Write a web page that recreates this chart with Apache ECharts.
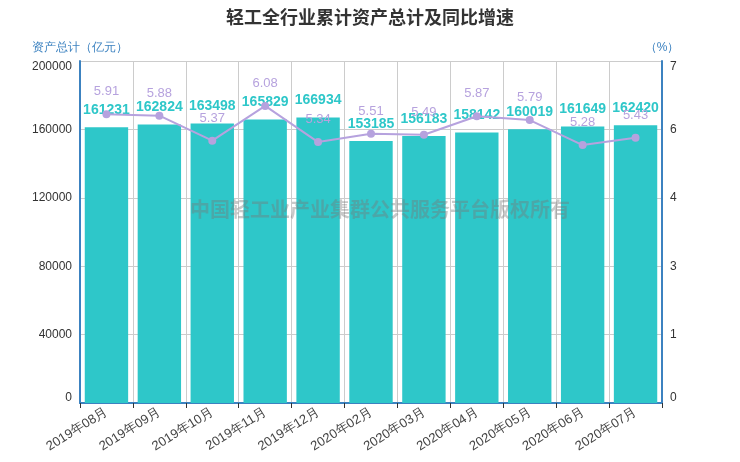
<!DOCTYPE html>
<html><head><meta charset="utf-8">
<script src="https://cdn.jsdelivr.net/npm/echarts@6/dist/echarts.min.js"></script>
<style>html,body{margin:0;padding:0;background:#fff}#c{width:740px;height:462px}</style>
</head><body><div id="c"></div>
<script>
var categories = ['2019年08月','2019年09月','2019年10月','2019年11月','2019年12月','2020年02月','2020年03月','2020年04月','2020年05月','2020年06月','2020年07月'];
var assets = [161231,162824,163498,165829,166934,153185,156183,158142,160019,161649,162420];
var growth = [5.91,5.88,5.37,6.08,5.34,5.51,5.49,5.87,5.79,5.28,5.43];
var leftTicks = [0,200000,40000];
var rightTicks = [0,7,1.4];

var chart = echarts.init(document.getElementById('c'));
var axisBlue = '#3c82c0';
function edgeFmt(min,max,fn){
  return function(v){
    var s = fn(v);
    if (Math.abs(v-max)<1e-9) return '{t|'+s+'}';
    if (Math.abs(v-min)<1e-9) return '{b|'+s+'}';
    return s;
  };
}
var richEdge = {t:{padding:[11,0,0,0],color:'#333',fontSize:12},b:{padding:[0,0,11,0],color:'#333',fontSize:12}};
chart.setOption({
  animation:false,
  title:{text:'轻工全行业累计资产总计及同比增速',left:'center',top:3,textStyle:{fontSize:18,fontWeight:'bold',color:'#333',fontFamily:'Noto Sans CJK SC'}},
  grid:{left:80,right:78,top:61,bottom:59},
  graphic:[{type:'text',left:190,top:199,z:100,style:{text:'中国轻工业产业集群公共服务平台版权所有',fontSize:20,fontWeight:'bold',fontFamily:'Noto Sans CJK SC',fill:'rgba(120,120,120,0.4)'}}],
  xAxis:{type:'category',data:categories,
    axisLine:{lineStyle:{color:axisBlue,width:2}},
    axisTick:{show:true,lineStyle:{color:'#333'}},
    axisLabel:{rotate:32,color:'#444',fontSize:13,interval:0,margin:8},
    splitLine:{show:true,lineStyle:{color:'#ccc'}}},
  yAxis:[{type:'value',min:leftTicks[0],max:leftTicks[1],interval:leftTicks[2],
      name:'资产总计（亿元）',nameGap:7,nameTextStyle:{color:'#3c82c0',fontSize:12},
      axisLine:{show:true,lineStyle:{color:axisBlue,width:2}},axisTick:{show:false},
      axisLabel:{color:'#333',fontSize:12,rich:richEdge,formatter:edgeFmt(leftTicks[0],leftTicks[1],function(v){return String(v);})},
      splitLine:{lineStyle:{color:'#ccc'}}},
    {type:'value',min:rightTicks[0],max:rightTicks[1],interval:rightTicks[2],
      name:'（%）',nameGap:7,nameTextStyle:{color:'#3c82c0',fontSize:12},
      axisLine:{show:true,lineStyle:{color:axisBlue,width:2}},axisTick:{show:false},
      axisLabel:{color:'#333',fontSize:12,rich:richEdge,formatter:edgeFmt(rightTicks[0],rightTicks[1],function(v){return String(Math.round(v));})},
      splitLine:{show:false}}],
  series:[{type:'bar',data:assets,barCategoryGap:'18%',itemStyle:{color:'#2ec7c9'},
      label:{show:true,position:'top',color:'#2ec7c9',fontWeight:'bold',fontSize:14,distance:10}},
    {type:'line',yAxisIndex:1,data:growth,symbol:'circle',symbolSize:8,
      lineStyle:{color:'#b6a2de',width:2},itemStyle:{color:'#b6a2de'},
      label:{show:true,position:'top',color:'#b6a2de',fontSize:13,distance:12,formatter:function(p){return p.value.toFixed(2);}}}]
});
</script></body></html>
